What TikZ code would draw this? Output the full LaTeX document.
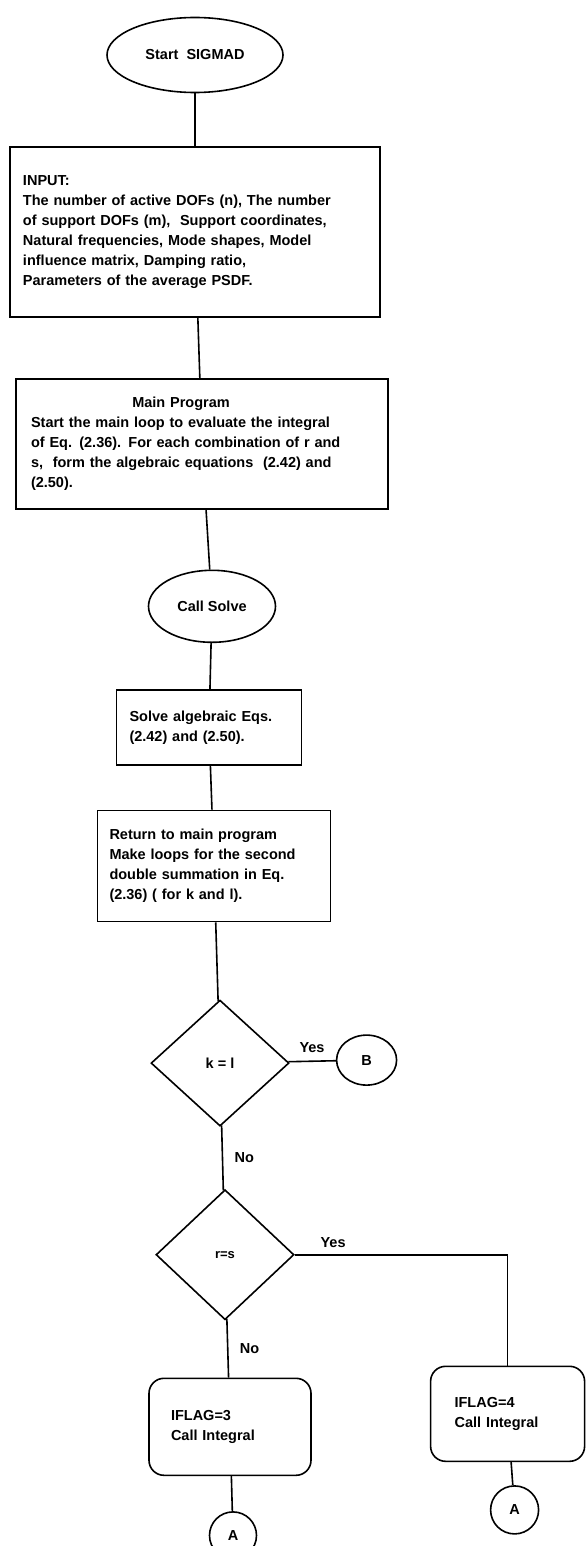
\documentclass[tikz,border=0pt]{standalone}
\usepackage{fontspec}
\setmainfont{Liberation Sans}
\usepackage{tikz}
\usetikzlibrary{shapes.geometric, positioning}

\begin{document}
\begin{tikzpicture}[
        x=1pt, y=1pt,
        every node/.style={font=\bfseries\fontsize{14.5}{20}\selectfont},
        proc/.style={
            rectangle,
            draw=black,
            line width=1.6pt,
            inner xsep=13pt,
            align=left
        },
        term/.style={
            ellipse,
            draw=black,
            line width=1.6pt,
            inner sep=2pt
        },
        decide/.style={
            diamond,
            draw=black,
            line width=1.6pt,
            minimum width=138pt,
            minimum height=126pt,
            inner sep=1pt
        },
        sub/.style={
            rectangle,
            rounded corners=15pt,
            draw=black,
            line width=1.6pt,
            align=left
        },
        conn/.style={
            circle,
            draw=black,
            line width=1.6pt,
            minimum size=47pt,
            inner sep=1pt
        },
        link/.style={
            draw=black,
            line width=1.6pt
        }
    ]
        \useasboundingbox (0,0) rectangle (586,-1546);

        \node (start) [term, minimum width=176pt, minimum height=75pt] at (195,-55) {Start\ \ SIGMAD};
        \node (input) [proc, below=53pt of start, minimum width=370pt, minimum height=170pt, text width=344pt]
            {INPUT:\\
             The number of active DOFs (n), The number\\
             of support DOFs (m),\ \ Support coordinates,\\
             Natural frequencies, Mode shapes, Model\\
             influence matrix, Damping ratio,\\
             Parameters of the average PSDF.};
        \node (main) [proc, below=60pt of input, xshift=7pt, minimum width=372pt, minimum height=130pt, text width=342pt, inner xsep=15pt]
            {\makebox[300pt]{Main Program}\\
             Start the main loop to evaluate the integral\\
             of Eq. (2.36). For each combination of r and\\
             s,\ \ form the algebraic equations\ \ (2.42) and\\
             (2.50).};
        \node (callsolve) [term, below=60pt of main, xshift=10pt, minimum width=127pt, minimum height=72pt] {Call Solve};
        \node (solve) [proc, below=46pt of callsolve, xshift=-3pt, minimum width=185pt, minimum height=75pt, text width=159pt]
            {Solve algebraic Eqs.\\
             (2.42) and (2.50).};
        \node (ret) [proc, below=44pt of solve, xshift=5pt, minimum width=233pt, minimum height=111pt, text width=209pt, inner xsep=12pt]
            {Return to main program\\
             Make loops for the second\\
             double summation in Eq.\\
             (2.36) ( for k and l).};

        \node (kdia) [decide, below=77pt of ret, xshift=6pt] {k = l};
        \node (bnode) [term, right=46pt of kdia, yshift=3pt, minimum width=60pt, minimum height=50pt] {B};
        \node (rdia) [decide, below=62pt of kdia, xshift=5pt, minimum height=130pt, font=\bfseries\fontsize{13}{16}\selectfont] {r=s};

        \node (iflag3) [sub, below=57pt of rdia, xshift=5pt, minimum width=162pt, minimum height=97pt, text width=118pt, inner xsep=22pt]
            {IFLAG=3\\ Call Integral};
        \node (iflag4) [sub, right=118pt of iflag3, yshift=13pt, minimum width=154pt, minimum height=95pt, text width=106pt, inner xsep=24pt]
            {IFLAG=4\\ Call Integral};
        \node (a1) [conn, below=35pt of iflag3, xshift=3pt] {A};
        \node (a2) [conn, below=23pt of iflag4, xshift=7pt, minimum size=48pt] {A};

        \draw [link] (start) -- (input);
        \draw [link] (input) -- (main);
        \draw [link] (main) -- (callsolve);
        \draw [link] (callsolve) -- (solve);
        \draw [link] (solve) -- (ret);
        \draw [link] (ret) -- (kdia);
        \draw [link] (kdia) -- (bnode) node [midway, above=4pt] {Yes};
        \draw [link] (kdia) -- (rdia) node [midway, right=8pt] {No};
        \draw [link] (rdia.east) -| (iflag4.north) node [pos=0.09, above=3pt] {Yes};
        \draw [link] (rdia) -- (iflag3) node [midway, right=8pt] {No};
        \draw [link] (iflag3) -- (a1);
        \draw [link] (iflag4) -- (a2);
    \end{tikzpicture}
\end{document}
